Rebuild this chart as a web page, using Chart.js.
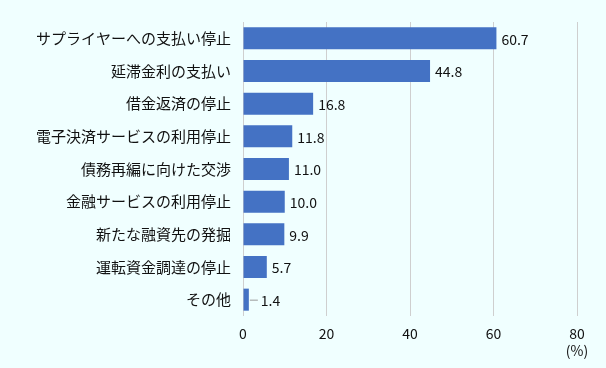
<!DOCTYPE html>
<html>
<head>
<meta charset="utf-8">
<script src="https://cdn.jsdelivr.net/npm/chart.js@4"></script>
<style>
  html, body { margin: 0; padding: 0; background: #F0FFFF; }
  #wrap { width: 606px; height: 368px; }
</style>
</head>
<body>
<div id="wrap"><canvas id="chart" width="606" height="368"></canvas></div>
<script>
// --- Data ---
const categories = [
  'サプライヤーへの支払い停止',
  '延滞金利の支払い',
  '借金返済の停止',
  '電子決済サービスの利用停止',
  '債務再編に向けた交渉',
  '金融サービスの利用停止',
  '新たな融資先の発掘',
  '運転資金調達の停止',
  'その他'
];
const values = [60.7, 44.8, 16.8, 11.8, 11.0, 10.0, 9.9, 5.7, 1.4];
const xTicks = [0, 20, 40, 60, 80];
const unitLabel = '(%)';

const fontFamily = '"Noto Sans CJK JP", "Noto Sans", sans-serif';

// value labels at bar ends, with a short leader line for tiny bars
const valueLabels = {
  id: 'valueLabels',
  afterDatasetsDraw(chart) {
    const ctx = chart.ctx;
    const meta = chart.getDatasetMeta(0);
    ctx.save();
    ctx.font = '14px ' + fontFamily;
    ctx.fillStyle = '#111';
    ctx.textBaseline = 'middle';
    ctx.textAlign = 'left';
    meta.data.forEach((bar, i) => {
      const v = values[i];
      const txt = v.toFixed(1);
      if (v < 3) {
        ctx.strokeStyle = '#999';
        ctx.lineWidth = 1;
        ctx.beginPath();
        ctx.moveTo(bar.x + 1, bar.y + 0.5);
        ctx.lineTo(bar.x + 9, bar.y + 0.5);
        ctx.stroke();
        ctx.fillText(txt, bar.x + 12, bar.y + 1);
      } else {
        ctx.fillText(txt, bar.x + 5, bar.y + 1);
      }
    });
    ctx.restore();
  }
};

const ctx = document.getElementById('chart').getContext('2d');
new Chart(ctx, {
  type: 'bar',
  data: {
    labels: categories,
    datasets: [{
      data: values,
      backgroundColor: '#4472C4',
      barPercentage: 0.675,
      categoryPercentage: 1.0
    }]
  },
  options: {
    indexAxis: 'y',
    responsive: false,
    animation: false,
    layout: { padding: { top: 22, right: 29, bottom: 0, left: 0 } },
    plugins: {
      legend: { display: false },
      tooltip: { enabled: false }
    },
    scales: {
      x: {
        min: 0,
        max: 80,
        afterBuildTicks: (scale) => { scale.ticks = xTicks.map(v => ({ value: v })); },
        afterFit: (scale) => { scale.height = 52; },
        grid: { color: '#CFCFCF', drawTicks: false, tickLength: 0 },
        border: { display: false },
        ticks: {
          padding: 9,
          color: '#111',
          font: { family: fontFamily, size: 14 },
          callback: (v) => v === 80 ? ['80', unitLabel] : String(v)
        }
      },
      y: {
        afterFit: (scale) => { scale.width = 243; },
        grid: { display: false },
        border: { display: false },
        ticks: {
          padding: 4,
          color: '#111',
          font: { family: fontFamily, size: 15 }
        }
      }
    }
  },
  plugins: [valueLabels]
});
</script>
</body>
</html>
